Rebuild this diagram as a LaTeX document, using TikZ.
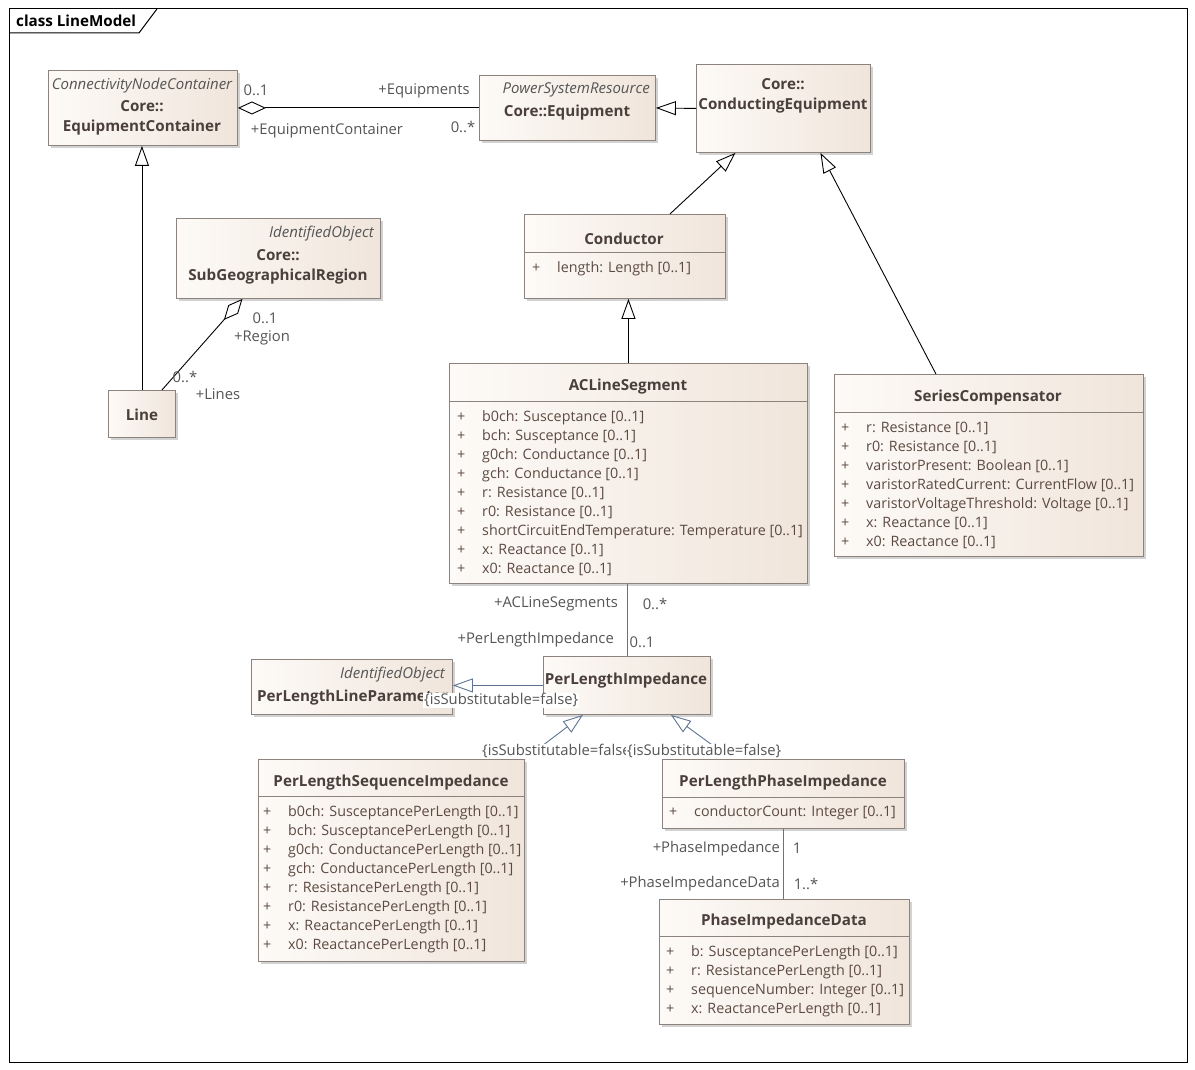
\documentclass[tikz,border=0pt]{standalone}
\usepackage{fontspec}
\setmainfont{Open Sans}
\usetikzlibrary{arrows.meta,shadows}

\definecolor{boxline}{RGB}{140,130,126}
\definecolor{boxa}{RGB}{253,250,247}
\definecolor{boxb}{RGB}{240,229,219}
\definecolor{titletext}{RGB}{74,63,59}
\definecolor{attrtext}{RGB}{92,74,66}
\definecolor{labeltext}{RGB}{85,85,85}
\definecolor{assoc}{RGB}{96,116,146}

\newcommand{\attrfont}{\fontsize{14.3}{19}\selectfont}
\newcommand{\titlefont}{\fontsize{15.2}{20}\selectfont}
\newcommand{\lblfont}{\fontsize{14.8}{19}\selectfont}
\newcommand{\stereofont}{\fontsize{15}{19}\selectfont}
\newcommand{\vis}{\makebox[25pt][l]{+}}

\tikzset{
  umlbox/.style={draw=boxline, line width=0.9pt, anchor=north west, inner sep=0pt,
    left color=boxa, right color=boxb,
    drop shadow={shadow xshift=3pt, shadow yshift=-3pt, fill=black!35, opacity=0.5}},
  title/.style={font=\titlefont\bfseries, text=titletext, inner sep=0pt, align=center, yshift=-2.5pt},
  stereo/.style={font=\stereofont\itshape, text=labeltext, inner sep=0pt, yshift=-2.5pt},
  attrs/.style={font=\attrfont, text=attrtext, inner sep=0pt, align=left, anchor=base west},
  lbl/.style={font=\lblfont, text=labeltext, inner sep=0pt, yshift=-2.5pt},
  sep/.style={draw=boxline, line width=0.9pt},
  gen/.style={line width=0.9pt, -{Triangle[fill=white, length=20pt, width=14pt]}},
  aggr/.style={line width=0.9pt, {Diamond[fill=white, length=28pt, width=13pt]}-},
  subst/.style={lbl, fill=white, inner sep=1pt, anchor=west}
}

\begin{document}
\begin{tikzpicture}[x=1pt, y=-1pt]
  \fill[white] (0,0) rectangle (1195,1070);
  \useasboundingbox (0,0) rectangle (1195,1070);

  % frame
  \draw[line width=1pt] (9,9) rectangle (1187,1062);
  \draw[line width=1pt] (9,33) -- (139,33) -- (157,9);
  \node[font=\titlefont\bfseries, inner sep=0pt, anchor=west] (frame) at (16,21) {class LineModel};

  % classes
  \node[umlbox, minimum width=189pt, minimum height=75pt] (ec) at (48,70) {};
  \node[stereo] (ec-s) at (142,83) {ConnectivityNodeContainer};
  \node[title] (ec-t) at (142,115) {Core::\\EquipmentContainer};

  \node[umlbox, minimum width=176pt, minimum height=65pt] (equip) at (479,75) {};
  \node[stereo, anchor=east] (equip-s) at (650,87) {PowerSystemResource};
  \node[title] (equip-t) at (567,110) {Core::Equipment};

  \node[umlbox, minimum width=174pt, minimum height=88pt] (condeq) at (696,64) {};
  \node[title] (condeq-t) at (783,93) {Core::\\ConductingEquipment};

  \node[umlbox, minimum width=204pt, minimum height=80pt] (subgeo) at (176,218) {};
  \node[stereo, anchor=east] (subgeo-s) at (374,231) {IdentifiedObject};
  \node[title] (subgeo-t) at (278,264) {Core::\\SubGeographicalRegion};

  \node[umlbox, minimum width=67pt, minimum height=47pt] (line) at (108,390) {};
  \node[title] (line-t) at (142,412) {Line};

  \node[umlbox, minimum width=201pt, minimum height=84pt] (cond) at (524,214) {};
  \node[title] (cond-t) at (624,236) {Conductor};
  \draw[sep] ([yshift=-38]cond.north west) -- ([yshift=-38]cond.north east);
  \node[attrs] (cond-a) at (532,272) {\vis length: Length [0..1]};

  \node[umlbox, minimum width=358pt, minimum height=220pt] (acl) at (449,363) {};
  \node[title] (acl-t) at (628,384) {ACLineSegment};
  \draw[sep] ([yshift=-38]acl.north west) -- ([yshift=-38]acl.north east);
  \node[attrs] (acl-a) at (457,573) {\vis b0ch: Susceptance [0..1]\\
    \vis bch: Susceptance [0..1]\\
    \vis g0ch: Conductance [0..1]\\
    \vis gch: Conductance [0..1]\\
    \vis r: Resistance [0..1]\\
    \vis r0: Resistance [0..1]\\
    \vis shortCircuitEndTemperature: Temperature [0..1]\\
    \vis x: Reactance [0..1]\\
    \vis x0: Reactance [0..1]};

  \node[umlbox, minimum width=309pt, minimum height=182pt] (sc) at (834,374) {};
  \node[title] (sc-t) at (988,395) {SeriesCompensator};
  \draw[sep] ([yshift=-38]sc.north west) -- ([yshift=-38]sc.north east);
  \node[attrs] (sc-a) at (841,546) {\vis r: Resistance [0..1]\\
    \vis r0: Resistance [0..1]\\
    \vis varistorPresent: Boolean [0..1]\\
    \vis varistorRatedCurrent: CurrentFlow [0..1]\\
    \vis varistorVoltageThreshold: Voltage [0..1]\\
    \vis x: Reactance [0..1]\\
    \vis x0: Reactance [0..1]};

  \node[umlbox, minimum width=201pt, minimum height=55pt] (plp) at (251,659) {};
  \node[stereo, anchor=east] (plp-s) at (445,672) {IdentifiedObject};
  \node[title, anchor=west] (plp-t) at (257,695) {PerLengthLineParameter};

  \node[umlbox, minimum width=167pt, minimum height=58pt] (pli) at (543,656) {};
  \node[title] (pli-t) at (626,678) {PerLengthImpedance};

  \node[umlbox, minimum width=266pt, minimum height=202pt] (plsi) at (258,759) {};
  \node[title] (plsi-t) at (391,780) {PerLengthSequenceImpedance};
  \draw[sep] ([yshift=-37]plsi.north west) -- ([yshift=-37]plsi.north east);
  \node[attrs] (plsi-a) at (263,949) {\vis b0ch: SusceptancePerLength [0..1]\\
    \vis bch: SusceptancePerLength [0..1]\\
    \vis g0ch: ConductancePerLength [0..1]\\
    \vis gch: ConductancePerLength [0..1]\\
    \vis r: ResistancePerLength [0..1]\\
    \vis r0: ResistancePerLength [0..1]\\
    \vis x: ReactancePerLength [0..1]\\
    \vis x0: ReactancePerLength [0..1]};

  \node[umlbox, minimum width=242pt, minimum height=69pt] (plpi) at (662,759) {};
  \node[title] (plpi-t) at (783,780) {PerLengthPhaseImpedance};
  \draw[sep] ([yshift=-38]plpi.north west) -- ([yshift=-38]plpi.north east);
  \node[attrs] (plpi-a) at (669,816) {\vis conductorCount: Integer [0..1]};

  \node[umlbox, minimum width=250pt, minimum height=125pt] (pid) at (659,899) {};
  \node[title] (pid-t) at (784,919) {PhaseImpedanceData};
  \draw[sep] ([yshift=-37]pid.north west) -- ([yshift=-37]pid.north east);
  \node[attrs] (pid-a) at (666,1013) {\vis b: SusceptancePerLength [0..1]\\
    \vis r: ResistancePerLength [0..1]\\
    \vis sequenceNumber: Integer [0..1]\\
    \vis x: ReactancePerLength [0..1]};

  % connectors
  \draw[aggr] (ec.east) -- (equip.west);
  \draw[gen] (condeq.west) -- (equip.east);
  \draw[gen] (line.north) -- (line.north |- ec.south);
  \draw[aggr] ([xshift=-36]subgeo.south) -- ([xshift=20]line.north);
  \draw[gen] ([xshift=45]cond.north) -- ([xshift=-48]condeq.south);
  \draw[gen] ([xshift=-53]sc.north) -- ([xshift=37]condeq.south);
  \draw[gen] (acl.north) -- (acl.north |- cond.south);
  \draw[assoc, line width=0.9pt] (pli.north) -- (pli.north |- acl.south);
  \draw[gen, assoc] (pli.west) -- (pli.west -| plp.east);
  \draw[gen, assoc] (plsi.north east) -- ([xshift=-44]pli.south);
  \draw[gen, assoc] ([xshift=-52]plpi.north) -- ([xshift=44]pli.south);
  \draw[assoc, line width=0.9pt] (plpi.south) -- (plpi.south |- pid.north);

  % roles and multiplicities
  \node[lbl] (m-ec) at (256,88) {0..1};
  \node[lbl] (r-ec) at (327,128) {+EquipmentContainer};
  \node[lbl] (r-eq) at (424,88) {+Equipments};
  \node[lbl] (m-eq) at (463,124) {0..*};
  \node[lbl] (m-reg) at (265,316) {0..1};
  \node[lbl] (r-reg) at (262,335) {+Region};
  \node[lbl] (m-lines) at (185,374) {0..*};
  \node[lbl] (r-lines) at (218,392) {+Lines};
  \node[lbl, anchor=east] (r-acl) at (618,601) {+ACLineSegments};
  \node[lbl] (m-acl) at (655,601) {0..*};
  \node[lbl, anchor=east] (r-pli) at (614,637) {+PerLengthImpedance};
  \node[lbl] (m-pli) at (642,640) {0..1};
  \node[lbl, anchor=east] (r-pi) at (780,846) {+PhaseImpedance};
  \node[lbl] (m-pi) at (797,846) {1};
  \node[lbl, anchor=east] (r-pid) at (780,881) {+PhaseImpedanceData};
  \node[lbl] (m-pid) at (806,881) {1..*};

  \node[subst] (s-plp) at (423,698) {\{isSubstitutable=false\}};
  \node[subst] (s-plsi) at (481,749) {\{isSubstitutable=false\}};
  \node[subst] (s-plpi) at (626,749) {\{isSubstitutable=false\}};
\end{tikzpicture}
\end{document}
